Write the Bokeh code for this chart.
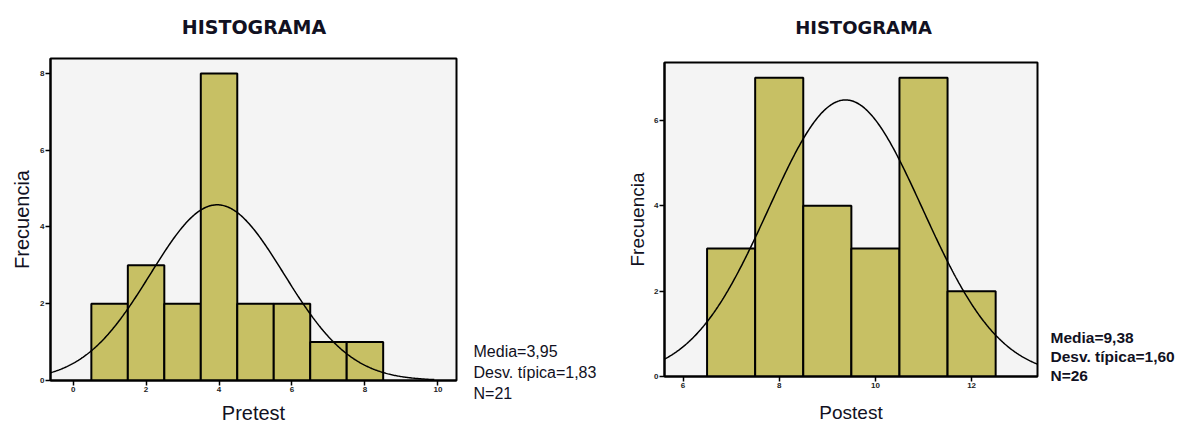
import numpy as np
from bokeh.plotting import figure
from bokeh.layouts import row, column
from bokeh.models import FixedTicker, Range1d
from bokeh.core.properties import value
from bokeh.embed import file_html
from bokeh.resources import INLINE

# ---------------- data ----------------
pre_bins = [1, 2, 3, 4, 5, 6, 7, 8]
pre_counts = [2, 3, 2, 8, 2, 2, 1, 1]
pre_mean, pre_sd, pre_n = 3.95, 1.83, 21
pre_xticks = [0, 2, 4, 6, 8, 10]
pre_yticks = [0, 2, 4, 6, 8]

post_bins = [7, 8, 9, 10, 11, 12]
post_counts = [3, 7, 4, 3, 7, 2]
post_mean, post_sd, post_n = 9.38, 1.60, 26
post_xticks = [6, 8, 10, 12]
post_yticks = [0, 2, 4, 6]

title_text = "HISTOGRAMA"
ylabel_text = "Frecuencia"
BAR = "#c7c064"
BG = "#f4f4f4"
INK = "#111122"
H = 426          # window height
T = 40           # height of the title strip


def fmt(v):
    return f"{v:.2f}".replace(".", ",")


def no_align(p):
    try:
        p.frame_align = False
    except Exception:
        pass


def text_panel(width, height, y_top, texts, xs, ys, size, style, font, align):
    """Frameless panel whose data coordinates are page pixels (y downwards)."""
    p = figure(width=width, height=height, x_range=Range1d(0, width),
               y_range=Range1d(y_top + height, y_top),
               output_backend="svg", toolbar_location=None, min_border=0)
    no_align(p)
    p.axis.visible = False
    p.grid.visible = False
    p.outline_line_color = None
    p.background_fill_color = "white"
    p.border_fill_color = "white"
    p.text(x=xs, y=ys, text=texts, text_align=align, text_baseline="alphabetic",
           text_font=value(font), text_font_style=style,
           text_font_size=size, text_color=INK)
    return p


def make_hist(bins, counts, mean, sd, n, xticks, yticks, xlabel,
              x_range, y_range, curve_end, width, borders,
              ylab_size, ylab_standoff, xlab_size, xlab_standoff):
    bl, br, bt, bb = borders
    p = figure(width=width, height=H - T, x_range=x_range, y_range=y_range,
               output_backend="svg", toolbar_location=None,
               min_border_left=bl, min_border_right=br,
               min_border_top=bt - T, min_border_bottom=bb)
    no_align(p)
    p.background_fill_color = BG
    p.border_fill_color = "white"
    p.outline_line_color = "black"
    p.outline_line_width = 2
    p.grid.visible = False

    xa = p.below[0]
    ya = p.left[0]

    # bars
    bw = 1.0
    p.quad(left=[b - bw / 2 for b in bins], right=[b + bw / 2 for b in bins],
           bottom=0, top=counts, fill_color=BAR, line_color="black", line_width=2)

    # normal curve
    xs = np.linspace(x_range[0], curve_end, 400)
    ys = n * bw / (sd * np.sqrt(2 * np.pi)) * np.exp(-0.5 * ((xs - mean) / sd) ** 2)
    p.line(xs, ys, line_color="black", line_width=1.5)

    # axes
    for ax, ticks in ((xa, xticks), (ya, yticks)):
        ax.ticker = FixedTicker(ticks=ticks, minor_ticks=[])
        ax.major_tick_in = 0
        ax.major_tick_out = 5
        ax.major_tick_line_width = 1.5
        ax.minor_tick_out = 0
        ax.minor_tick_in = 0
        ax.axis_line_width = 2
        ax.major_label_text_font = "Liberation Sans"
        ax.major_label_text_font_style = "bold"
        ax.major_label_text_font_size = "8px"
        ax.major_label_text_color = "#222222"
        ax.major_label_standoff = 1
        ax.axis_label_text_font = "Liberation Sans"
        ax.axis_label_text_font_style = "normal"
        ax.axis_label_text_color = INK
    ya.axis_label = ylabel_text
    ya.axis_label_text_font_size = ylab_size
    ya.axis_label_standoff = ylab_standoff
    xa.axis_label = xlabel
    xa.axis_label_text_font_size = xlab_size
    xa.axis_label_standoff = xlab_standoff
    return p


def stat_lines(mean, sd, n):
    return [f"Media={fmt(mean)}", f"Desv. típica={fmt(sd)}", f"N={n}"]


# titles
title_left = text_panel(600, T, 0, [title_text], [253.5], [26], "19px", "bold", "DejaVu Sans", "center")
title_right = text_panel(583, T, 0, [title_text], [263], [27], "18px", "bold", "DejaVu Sans", "center")

# histograms and their statistics
left = make_hist(pre_bins, pre_counts, pre_mean, pre_sd, pre_n, pre_xticks, pre_yticks,
                 "Pretest", (-0.62, 10.51), (0, 8.39), 9.9, 466,
                 (50, 10, 58, 46), "20px", 4, "20px", 7)
left_stats = text_panel(134, H - T, T, stat_lines(pre_mean, pre_sd, pre_n),
                        [7, 7, 7], [351, 372, 393], "16px", "normal", "Liberation Sans", "left")

right = make_hist(post_bins, post_counts, post_mean, post_sd, post_n, post_xticks, post_yticks,
                  "Postest", (5.615, 13.37), (0, 7.36), 13.37, 447,
                  (64, 10, 62, 50), "19px", 3, "19px", 11)
right_stats = text_panel(136, H - T, T, stat_lines(post_mean, post_sd, post_n),
                         [3, 3, 3], [337, 356, 375], "15.5px", "bold", "Liberation Sans", "left")

layout = column(row(title_left, title_right),
                row(left, left_stats, right, right_stats))
open("out.html", "w").write(file_html(layout, INLINE))
